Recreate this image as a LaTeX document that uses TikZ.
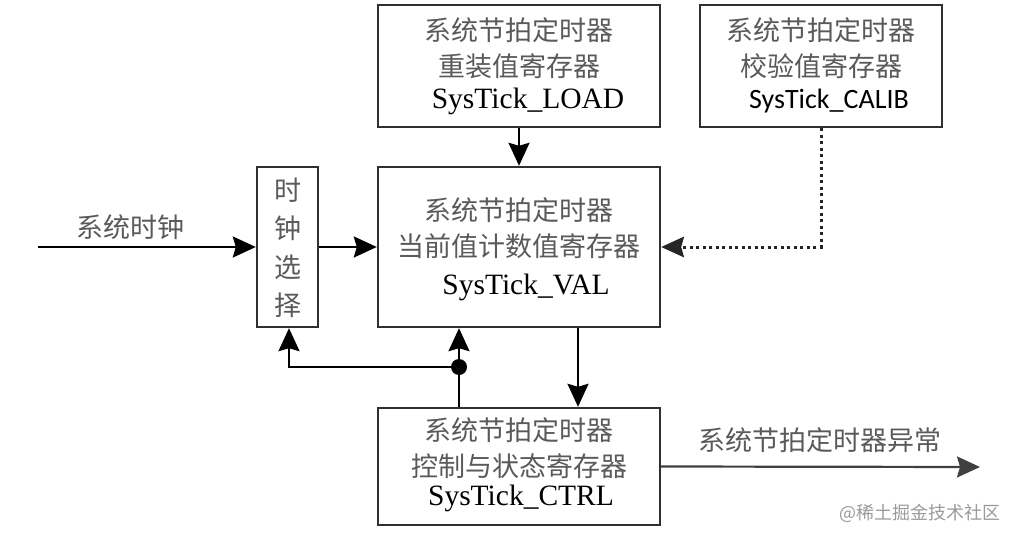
\documentclass[tikz,border=0pt]{standalone}
\usepackage{fontspec}
\setmainfont{Liberation Serif}
\newfontfamily\cjk{Noto Sans CJK SC}
\newfontfamily\calib{Carlito}
\usetikzlibrary{arrows.meta}
\definecolor{cjkgray}{HTML}{5A5A5A}
\definecolor{boxline}{HTML}{303030}
\definecolor{wmgray}{HTML}{9A9A9A}
\tikzset{
  box/.style={draw=boxline, line width=2.4pt, inner sep=0pt},
  zh/.style={font=\cjk\fontsize{27}{32}\selectfont, text=cjkgray, inner sep=0pt},
  en/.style={font=\fontsize{29.5}{34}\selectfont, text=black, inner sep=0pt},
  ensans/.style={font=\calib\fontsize{28}{32}\selectfont, text=black, inner sep=0pt},
  conn/.style={line width=2.2pt, draw=black, -{Stealth[length=23pt,width=21pt,inset=3pt]}},
  dotline/.style={line width=3pt, draw=black!85, dash pattern=on 3pt off 3.5pt, -{Stealth[length=23pt,width=21pt,inset=3pt,line width=0pt]}},
  junction/.style={circle, fill=black, inner sep=0pt, minimum size=16pt},
  wm/.style={font=\cjk\fontsize{18}{22}\selectfont, text=wmgray, inner sep=0pt}
}
\begin{document}
\begin{tikzpicture}[x=1pt,y=-1pt]
\useasboundingbox (0,0) rectangle (1017,540);
% boxes
\node[box, minimum width=282pt, minimum height=122pt] (load) at (519,66) {};
\node[box, minimum width=242pt, minimum height=122pt] (calib) at (821,66) {};
\node[box, minimum width=282pt, minimum height=160pt] (val) at (519,247) {};
\node[box, minimum width=61pt, minimum height=160pt] (sel) at (287.5,247) {};
\node[box, minimum width=282pt, minimum height=117pt] (ctrl) at (519,466.5) {};
% texts in boxes
\node[zh] (load1) at (519,30) {系统节拍定时器};
\node[zh] (load2) at (519,66) {重装值寄存器};
\node[en] (load3) at (528,101) {SysTick\_LOAD};
\node[zh] (calib1) at (821,30) {系统节拍定时器};
\node[zh] (calib2) at (821,66) {校验值寄存器};
\node[ensans] (calib3) at (829,101) {SysTick\_CALIB};
\node[zh] (val1) at (519,210) {系统节拍定时器};
\node[zh] (val2) at (519,246) {当前值计数值寄存器};
\node[en] (val3) at (526,287) {SysTick\_VAL};
\node[zh] (ctrl1) at (519,430) {系统节拍定时器};
\node[zh] (ctrl2) at (519,466) {控制与状态寄存器};
\node[en] (ctrl3) at (521,498) {SysTick\_CTRL};
\node[zh] (sel1) at (287.5,190) {时};
\node[zh] (sel2) at (287.5,228) {钟};
\node[zh] (sel3) at (287.5,267) {选};
\node[zh] (sel4) at (287.5,305) {择};
% outside labels
\node[zh] (clk) at (130,227) {系统时钟};
\node[zh] (exc) at (820,440) {系统节拍定时器异常};
\node[wm] (wm) at (920,513) {@稀土掘金技术社区};
% coordinates
\coordinate (in) at (38,247);
\coordinate (out) at (980,467);
\node[junction] (dot) at (459,367) {};
% connectors
\draw[conn] (in) -- (sel.west);
\draw[conn] (sel.east) -- (val.west);
\draw[conn] (load.south) -- (val.north);
\draw[dotline] (calib.south) |- (val.east);
\draw[conn] ([xshift=59pt]val.south) -- ([xshift=59pt]ctrl.north);
\draw[line width=2.2pt] ([xshift=-60pt]ctrl.north) -- (dot.center);
\draw[conn] (dot.center) -- ([xshift=-60pt]val.south);
\draw[conn] (dot.center) -| ([xshift=1.5pt]sel.south);
\draw[conn, draw=black!75] (ctrl.east) -- (out);
\end{tikzpicture}
\end{document}
